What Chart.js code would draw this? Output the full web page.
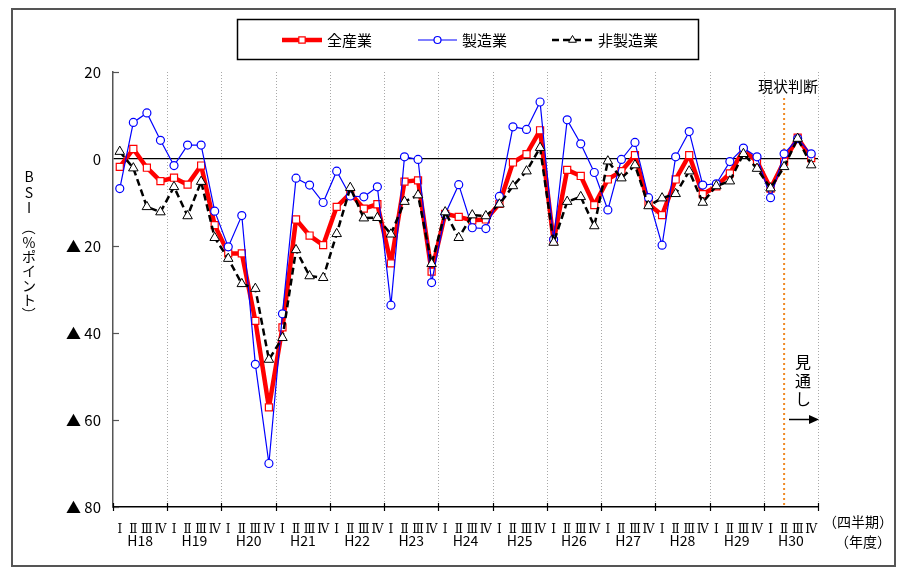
<!DOCTYPE html>
<html>
<head>
<meta charset="utf-8">
<script src="https://cdn.jsdelivr.net/npm/chart.js@4.4.1/dist/chart.umd.min.js"></script>
<style>
  html, body { margin: 0; padding: 0; background: #fff; }
  canvas { display: block; }
</style>
</head>
<body>
<canvas id="bsi-chart" width="897" height="569"></canvas>
<script>
const years = ["H18", "H19", "H20", "H21", "H22", "H23", "H24", "H25", "H26", "H27", "H28", "H29", "H30"];
const quarterMarks = ["Ⅰ", "Ⅱ", "Ⅲ", "Ⅳ"];
const labels = years.flatMap((y) => quarterMarks.map((q) => y + " " + q));

// 全産業
const allIndustry = [-1.8, 2.3, -2.0, -5.1, -4.3, -5.9, -1.5, -15.2, -21.7, -21.7,
  -37.2, -57.1, -38.7, -13.9, -17.6, -19.8, -11.0, -7.9, -11.4, -10.4,
  -24.0, -5.2, -4.9, -25.9, -12.6, -13.3, -14.1, -13.9, -10.3, -0.8,
  1.1, 6.6, -18.9, -2.5, -3.9, -10.6, -4.7, -2.8, 0.9, -10.4,
  -12.9, -4.7, 0.9, -8.1, -6.3, -3.3, 2.0, -0.5, -6.8, -0.6, 4.9, 0.2];
// 製造業
const manufacturing = [-6.8, 8.4, 10.6, 4.3, -1.5, 3.2, 3.2, -12.0, -20.2, -13.0,
  -47.2, -70.0, -35.6, -4.4, -6.0, -10.0, -2.8, -8.5, -8.7, -6.4,
  -33.6, 0.5, -0.1, -28.4, -12.7, -5.9, -15.8, -16.0, -8.6, 7.4,
  6.8, 13.1, -18.5, 9.0, 3.5, -3.1, -11.7, -0.1, 3.8, -8.9,
  -19.8, 0.5, 6.3, -6.0, -5.7, -0.6, 2.5, 0.5, -8.9, 1.2, 4.7, 1.2];
// 非製造業
const nonManufacturing = [1.7, -2.1, -11.0, -12.2, -6.4, -13.1, -5.2, -18.1, -22.9, -28.7,
  -29.8, -46.1, -41.1, -20.9, -26.9, -27.3, -17.2, -6.6, -13.6, -13.5,
  -17.3, -9.8, -8.3, -24.1, -12.2, -18.1, -12.9, -13.1, -10.4, -6.2,
  -2.8, 2.6, -19.2, -9.8, -8.7, -15.4, -0.5, -4.4, -1.4, -10.8,
  -9.0, -8.0, -2.8, -10.0, -6.2, -5.1, 1.2, -2.2, -6.7, -1.8, 4.7, -1.4];

const yTicks = [20, 0, -20, -40, -60, -80];
const currentIndex = 49; // 現状判断 (H30 Ⅱ)

const JP = '"Noto Sans CJK JP", "DejaVu Sans", sans-serif';

const decor = {
  id: "decor",
  beforeDatasetsDraw(chart) {
    const { ctx: t, chartArea: a, scales } = chart;
    const x = scales.x;
    const step = x.getPixelForValue(1) - x.getPixelForValue(0);
    t.save();
    // year separators (dotted)
    t.strokeStyle = "#a8a8a8";
    t.lineWidth = 1;
    t.setLineDash([1, 2]);
    for (let k = 1; k <= years.length; k++) {
      const px = Math.round(x.getPixelForValue(k * 4) - step / 2) + 0.5;
      t.beginPath();
      t.moveTo(px, a.top);
      t.lineTo(px, a.bottom);
      t.stroke();
    }
    // 現状判断 line
    const cx = x.getPixelForValue(currentIndex);
    t.strokeStyle = "#f08a24";
    t.lineWidth = 2;
    t.setLineDash([2, 3]);
    t.beginPath();
    t.moveTo(cx, 98);
    t.lineTo(cx, a.bottom);
    t.stroke();
    t.restore();
  },
  afterDraw(chart) {
    const { ctx: t, chartArea: a, scales } = chart;
    const x = scales.x, y = scales.y;
    const step = x.getPixelForValue(1) - x.getPixelForValue(0);
    t.save();

    // y ticks (inside)
    t.strokeStyle = "#555";
    t.lineWidth = 1.2;
    yTicks.forEach((v) => {
      if (v === 0) return;
      const py = Math.round(y.getPixelForValue(v)) + 0.5;
      t.beginPath();
      t.moveTo(a.left, py);
      t.lineTo(a.left + 6, py);
      t.stroke();
    });
    // x year ticks
    t.strokeStyle = "#000";
    for (let k = 0; k <= years.length; k++) {
      const px = Math.round(x.getPixelForValue(k * 4) - step / 2) + 0.5;
      t.beginPath();
      t.moveTo(px, a.bottom - 4);
      t.lineTo(px, a.bottom + 4);
      t.stroke();
    }

    // year labels
    t.fillStyle = "#000";
    t.font = "14px " + JP;
    t.textAlign = "center";
    t.textBaseline = "middle";
    years.forEach((yr, k) => {
      const px = (x.getPixelForValue(k * 4) + x.getPixelForValue(k * 4 + 3)) / 2;
      t.fillText(yr, px, 541);
    });
    t.textAlign = "right";
    t.fillText("（四半期）", 893, 522);
    t.fillText("（年度）", 891, 542);

    // y title, vertical (brackets turned)
    t.textAlign = "center";
    t.font = "14px " + JP;
    const title = [["B", 177], ["S", 193], ["I", 208], ["（", 228], ["%", 243], ["ポ", 257], ["イ", 271], ["ン", 286], ["ト", 300], ["）", 314]];
    title.forEach(([c, py]) => {
      if (c === "（" || c === "）") {
        t.save();
        t.translate(29, py);
        t.rotate(Math.PI / 2);
        t.fillText(c, 0, 0);
        t.restore();
      } else {
        t.fillText(c, 29, py);
      }
    });

    // 現状判断
    t.font = "15px " + JP;
    t.fillText("現状判断", 788, 86);

    // 見通し + arrow
    t.font = "16px " + JP;
    [["見", 362], ["通", 381], ["し", 399]].forEach(([c, py]) => t.fillText(c, 803, py));
    t.strokeStyle = "#000";
    t.lineWidth = 1.5;
    t.beginPath();
    t.moveTo(789, 419.5);
    t.lineTo(812, 419.5);
    t.stroke();
    t.beginPath();
    t.moveTo(819, 419.5);
    t.lineTo(809, 415);
    t.lineTo(809, 424);
    t.closePath();
    t.fill();

    // legend
    t.lineWidth = 1.5;
    t.strokeStyle = "#000";
    t.strokeRect(237.5, 19.5, 461, 40);
    const items = [
      { ds: 0, x1: 282, x2: 322, tx: 327, r: 4.5 },
      { ds: 1, x1: 418, x2: 457, tx: 462, r: 3.5 },
      { ds: 2, x1: 552, x2: 593, tx: 598, r: 4.5 },
    ];
    t.textAlign = "left";
    t.font = "15px " + JP;
    items.forEach((it) => {
      const d = chart.data.datasets[it.ds];
      const ly = 40;
      t.save();
      t.strokeStyle = d.borderColor;
      t.lineWidth = d.borderWidth;
      t.setLineDash(d.borderDash || []);
      t.beginPath();
      t.moveTo(it.x1, ly);
      t.lineTo(it.x2, ly);
      t.stroke();
      t.setLineDash([]);
      t.fillStyle = "#fff";
      t.strokeStyle = d.pointBorderColor;
      t.lineWidth = d.pointBorderWidth;
      Chart.helpers.drawPoint(t, { pointStyle: d.pointStyle, radius: it.r, borderWidth: d.pointBorderWidth, rotation: 0 }, (it.x1 + it.x2) / 2, ly);
      t.restore();
      t.fillStyle = "#000";
      t.fillText(d.label, it.tx, ly);
    });

    // frame
    t.strokeStyle = "#555";
    t.lineWidth = 2;
    t.strokeRect(12, 9, 883, 557);
    t.restore();
  },
};

new Chart(document.getElementById("bsi-chart"), {
  type: "line",
  data: {
    labels: labels,
    datasets: [
      {
        label: "全産業",
        data: allIndustry,
        borderColor: "#ff0000",
        borderWidth: 4.5,
        borderJoinStyle: "round",
        pointStyle: "rect",
        pointRadius: 5,
        pointBackgroundColor: "#fff",
        pointBorderColor: "#ff0000",
        pointBorderWidth: 1.2,
        tension: 0,
        order: 3,
      },
      {
        label: "製造業",
        data: manufacturing,
        borderColor: "#0000ff",
        borderWidth: 1.2,
        pointStyle: "circle",
        pointRadius: 4,
        pointBackgroundColor: "#fff",
        pointBorderColor: "#0000ff",
        pointBorderWidth: 1.2,
        tension: 0,
        order: 2,
      },
      {
        label: "非製造業",
        data: nonManufacturing,
        borderColor: "#000",
        borderWidth: 2.5,
        borderDash: [7, 4],
        pointStyle: "triangle",
        pointRadius: 5.5,
        pointBackgroundColor: "#fff",
        pointBorderColor: "#000",
        pointBorderWidth: 1,
        tension: 0,
        order: 1,
      },
    ],
  },
  options: {
    responsive: false,
    animation: false,
    layout: { padding: { left: 0, right: 79, top: 72, bottom: 0 } },
    plugins: { legend: { display: false }, tooltip: { enabled: false } },
    scales: {
      x: {
        type: "category",
        offset: true,
        afterFit(s) { s.height = 62; },
        grid: { display: false },
        border: { display: true, color: "#000", width: 1.5 },
        ticks: {
          autoSkip: false,
          maxRotation: 0,
          minRotation: 0,
          padding: 8,
          color: "#000",
          font: { family: '"DejaVu Serif", serif', size: 12 },
          callback: (v, i) => quarterMarks[i % 4],
        },
      },
      y: {
        min: -80,
        max: 20,
        afterFit(s) { s.width = 113; },
        afterBuildTicks(s) { s.ticks = yTicks.map((v) => ({ value: v })); },
        grid: {
          drawTicks: false,
          lineWidth: 1.2,
          color: (c) => (c.tick && c.tick.value === 0 ? "#000" : "rgba(0,0,0,0)"),
        },
        border: { display: true, color: "#555", width: 1.5 },
        ticks: {
          padding: 12,
          color: "#000",
          font: { family: JP, size: 15 },
          callback: (v) => (v < 0 ? "▲ " + -v : String(v)),
        },
      },
    },
  },
  plugins: [decor],
});
</script>
</body>
</html>
